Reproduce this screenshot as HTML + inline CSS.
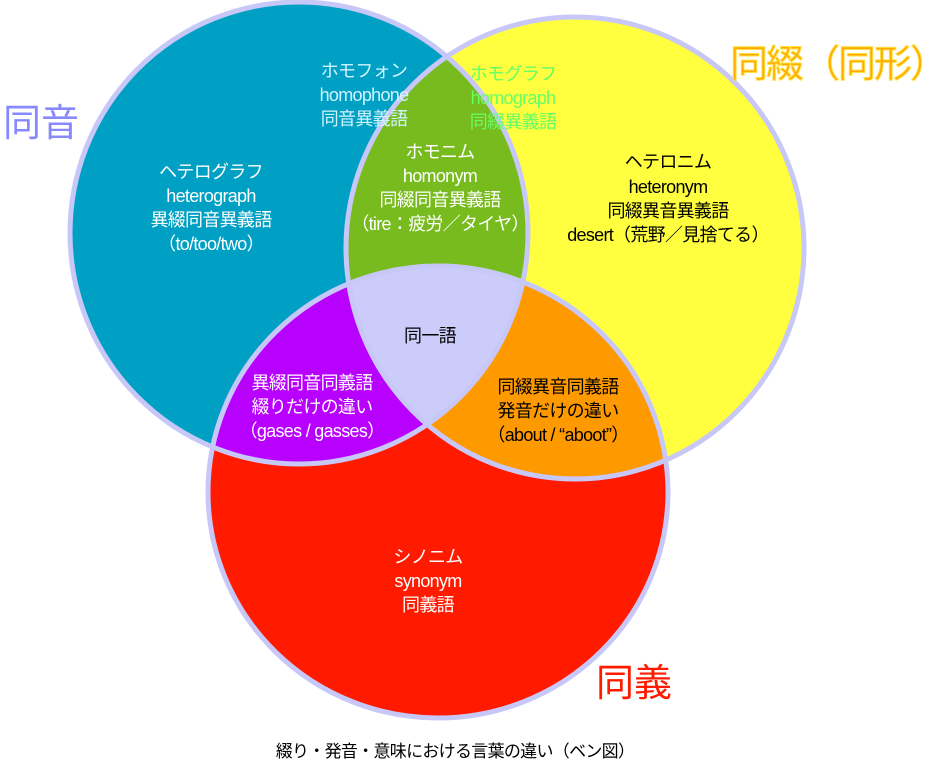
<!DOCTYPE html>
<html><head><meta charset="utf-8"><style>
html,body{margin:0;padding:0;background:#fff;width:944px;height:765px;overflow:hidden}
svg text{font-family:"Liberation Sans","Noto Sans CJK JP",sans-serif;text-anchor:middle}
</style></head><body>
<svg width="944" height="765" viewBox="0 0 944 765" xmlns="http://www.w3.org/2000/svg">
<defs>
<clipPath id="cb"><ellipse cx="299" cy="233" rx="229" ry="231"/></clipPath>
<clipPath id="cy"><ellipse cx="575" cy="248" rx="229" ry="231"/></clipPath>
</defs>
<ellipse cx="299" cy="233" rx="229" ry="231" fill="#00a0c4"/>
<ellipse cx="575" cy="248" rx="229" ry="231" fill="#ffff40"/>
<ellipse cx="438" cy="492" rx="230" ry="226" fill="#ff1a00"/>
<g clip-path="url(#cb)"><ellipse cx="575" cy="248" rx="229" ry="231" fill="#77bb1e"/><ellipse cx="438" cy="492" rx="230" ry="226" fill="#b800ff"/></g>
<g clip-path="url(#cy)"><ellipse cx="438" cy="492" rx="230" ry="226" fill="#ff9900"/></g>
<g clip-path="url(#cb)"><g clip-path="url(#cy)"><ellipse cx="438" cy="492" rx="230" ry="226" fill="#ccccfa"/></g></g>
<g fill="none" stroke="#c8c8f8" stroke-width="5">
<ellipse cx="299" cy="233" rx="229" ry="231"/>
<ellipse cx="575" cy="248" rx="229" ry="231"/>
<ellipse cx="438" cy="492" rx="230" ry="226"/>
</g>
<g font-size="18" letter-spacing="-0.7">
<g fill="#fff"><text x="211" y="178">ヘテログラフ</text><text x="211" y="202">heterograph</text><text x="211" y="226">異綴同音異義語</text><text x="211" y="250">（to/too/two）</text></g>
<g fill="#d0f4ff"><text x="364" y="77">ホモフォン</text><text x="364" y="101">homophone</text><text x="364" y="125">同音異義語</text></g>
<g fill="#66ff66"><text x="513" y="80">ホモグラフ</text><text x="513" y="104">homograph</text><text x="513" y="128">同綴異義語</text></g>
<g fill="#fff"><text x="440" y="158">ホモニム</text><text x="440" y="182">homonym</text><text x="440" y="206">同綴同音異義語</text><text x="440" y="230">（tire：疲労／タイヤ）</text></g>
<g fill="#000"><text x="668" y="168">ヘテロニム</text><text x="668" y="193">heteronym</text><text x="668" y="217">同綴異音異義語</text><text x="668" y="241">desert（荒野／見捨てる）</text></g>
<text x="430" y="342" fill="#000">同一語</text>
<g fill="#fff"><text x="312" y="389">異綴同音同義語</text><text x="312" y="413">綴りだけの違い</text><text x="312" y="437">（gases / gasses）</text></g>
<g fill="#000"><text x="558" y="393">同綴異音同義語</text><text x="558" y="417">発音だけの違い</text><text x="558" y="441">（about / “aboot”）</text></g>
<g fill="#fff"><text x="428" y="563">シノニム</text><text x="428" y="587">synonym</text><text x="428" y="611">同義語</text></g>
<text x="455" y="757" fill="#000" font-size="17">綴り・発音・意味における言葉の違い（ベン図）</text>
</g>
<text x="41" y="136" font-size="38" fill="#8888ff">同音</text>
<text x="838" y="77" font-size="38" fill="#ffaa00" stroke="#ffe040" stroke-width="1" letter-spacing="-2">同綴（同形）</text>
<text x="634" y="696" font-size="38" fill="#ff1a00">同義</text>
</svg>
</body></html>
